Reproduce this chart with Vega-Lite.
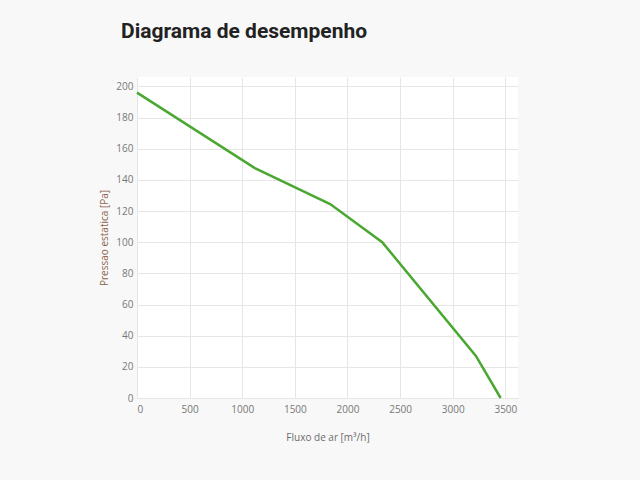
{
  "$schema": "https://vega.github.io/schema/vega-lite/v6.json",
  "width": 381,
  "height": 321,
  "autosize": {"type": "none"},
  "padding": {"left": 137, "top": 77, "right": 122, "bottom": 82},
  "background": "#f8f8f8",
  "title": {
    "text": "Diagrama de desempenho",
    "anchor": "start",
    "frame": "group",
    "font": "Roboto",
    "fontWeight": "bold",
    "fontSize": 21,
    "color": "#222222",
    "dx": -16,
    "offset": 35
  },
  "config": {
    "view": {"fill": "white", "stroke": null},
    "axis": {
      "labelFont": "Open Sans",
      "labelFontSize": 10,
      "labelColor": "#777777",
      "titleFont": "Open Sans",
      "titleFontSize": 10,
      "titleFontWeight": "normal",
      "gridColor": "#e6e6e6",
      "gridWidth": 1,
      "domain": false,
      "ticks": false
    }
  },
  "data": {
    "values": [
      {"fluxo": 0, "pressao": 196},
      {"fluxo": 1120, "pressao": 147.5},
      {"fluxo": 1835, "pressao": 124.5},
      {"fluxo": 2330, "pressao": 100},
      {"fluxo": 3220, "pressao": 27},
      {"fluxo": 3455, "pressao": 0}
    ]
  },
  "mark": {"type": "line", "color": "#4aa832", "strokeWidth": 2.5},
  "encoding": {
    "x": {
      "field": "fluxo",
      "type": "quantitative",
      "scale": {"domain": [0, 3620], "nice": false},
      "axis": {
        "title": "Fluxo de ar [m³/h]",
        "format": "d",
        "values": [0, 500, 1000, 1500, 2000, 2500, 3000, 3500],
        "labelPadding": 6,
        "titlePadding": 18,
        "titleColor": "#6b6b6b"
      }
    },
    "y": {
      "field": "pressao",
      "type": "quantitative",
      "scale": {"domain": [0, 206], "nice": false},
      "axis": {
        "title": "Pressao estatica [Pa]",
        "values": [0, 20, 40, 60, 80, 100, 120, 140, 160, 180, 200],
        "labelPadding": 4,
        "titlePadding": 6,
        "titleColor": "#8a6248"
      }
    }
  }
}
